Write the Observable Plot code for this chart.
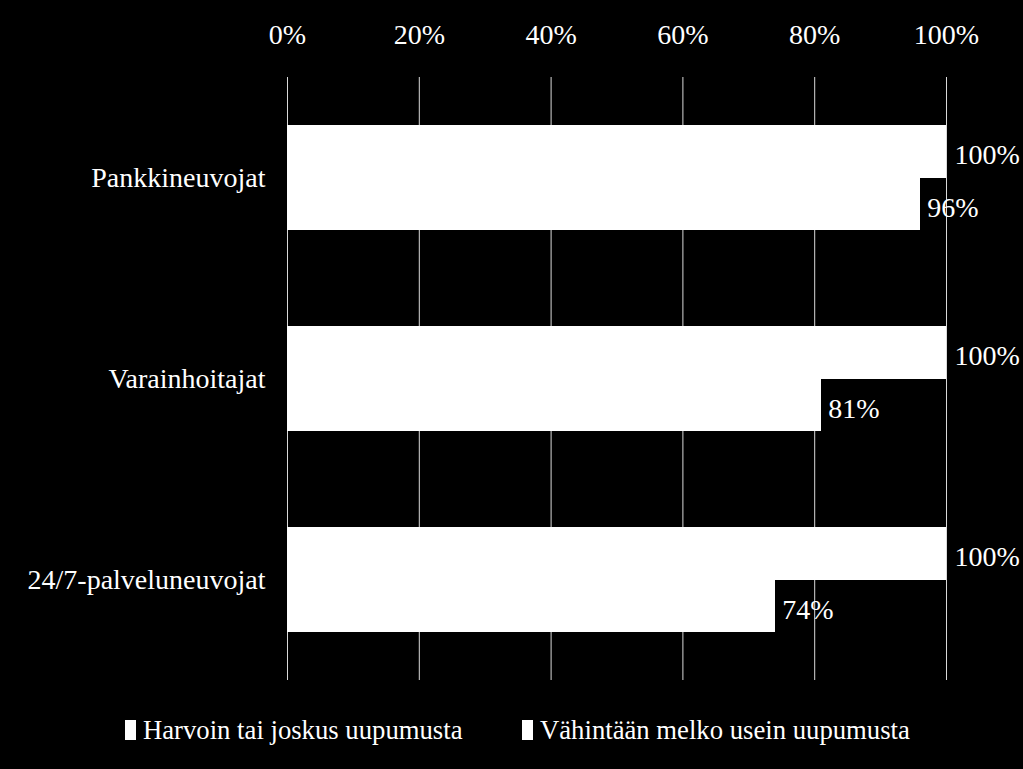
<!DOCTYPE html>
<html>
<head>
<meta charset="utf-8">
<script src="https://cdn.jsdelivr.net/npm/d3@7"></script>
<script src="https://cdn.jsdelivr.net/npm/@observablehq/plot@0.6"></script>
<style>
  html, body { margin: 0; padding: 0; background: #000; }
  body { width: 1023px; height: 769px; overflow: hidden; font-family: "Liberation Serif", serif; color: #fff; }
  #legend { position: relative; height: 36px; margin-top: 22px; font-size: 26.7px; }
  .item { position: absolute; top: 0; display: flex; align-items: center; height: 36px; }
  .sw { display: inline-block; width: 11px; height: 20px; background: #fff; margin-right: 7px; }
  svg rect { shape-rendering: crispEdges; }
</style>
</head>
<body>
<div id="chart"></div>
<div id="legend"></div>
<script>
const categories = ["Pankkineuvojat", "Varainhoitajat", "24/7-palveluneuvojat"];
const series = ["Harvoin tai joskus uupumusta", "Vähintään melko usein uupumusta"];
const harvoin = [100, 100, 100];
const vahintaan = [96, 81, 74];
const xTicks = [0, 20, 40, 60, 80, 100];

const rows = categories.flatMap((c, i) => [
  {cat: c, s: series[0], v: harvoin[i]},
  {cat: c, s: series[1], v: vahintaan[i]}
]);

const width = 1023, height = 690;
const marginTop = 77, marginBottom = 10, marginLeft = 287, marginRight = 77;
const paddingInner = 0.48, paddingOuter = 0.24;
const step = (height - marginTop - marginBottom) / (categories.length - paddingInner + 2 * paddingOuter);
const half = Math.round(step * (1 - paddingInner) / 2);

const chart = Plot.plot({
  width, height, marginTop, marginBottom, marginLeft, marginRight,
  style: {background: "#000", color: "#fff", fontFamily: "Liberation Serif, serif", fontSize: "28px"},
  x: {domain: [0, 100], axis: "top", ticks: xTicks, tickFormat: d => d + "%", tickSize: 0, tickPadding: 34, label: null},
  y: {domain: categories, paddingInner, paddingOuter, tickSize: 0, tickPadding: 22, label: null},
  marks: [
    Plot.ruleX(xTicks, {x: d => d, stroke: "#d9d9d9", strokeWidth: 1}),
    Plot.barX(rows.filter(d => d.s === series[1]), {x: "v", y: "cat", fill: "#fff", insetTop: half - 1}),
    Plot.barX(rows.filter(d => d.s === series[0]), {x: "v", y: "cat", fill: "#fff", insetBottom: half}),
    Plot.text(rows.filter(d => d.s === series[0]), {x: "v", y: "cat", text: d => d.v + "%", dx: 8, dy: -half / 2 + 3, textAnchor: "start", fill: "#fff"}),
    Plot.text(rows.filter(d => d.s === series[1]), {x: "v", y: "cat", text: d => d.v + "%", dx: 7, dy: half / 2 + 4, textAnchor: "start", fill: "#fff"})
  ]
});
document.getElementById("chart").appendChild(chart);

const legend = document.getElementById("legend");
const legendX = [125, 522];
series.forEach((s, i) => {
  const item = document.createElement("div");
  item.className = "item";
  item.style.left = legendX[i] + "px";
  const sw = document.createElement("span");
  sw.className = "sw";
  const t = document.createElement("span");
  t.textContent = s;
  item.appendChild(sw);
  item.appendChild(t);
  legend.appendChild(item);
});
</script>
</body>
</html>
